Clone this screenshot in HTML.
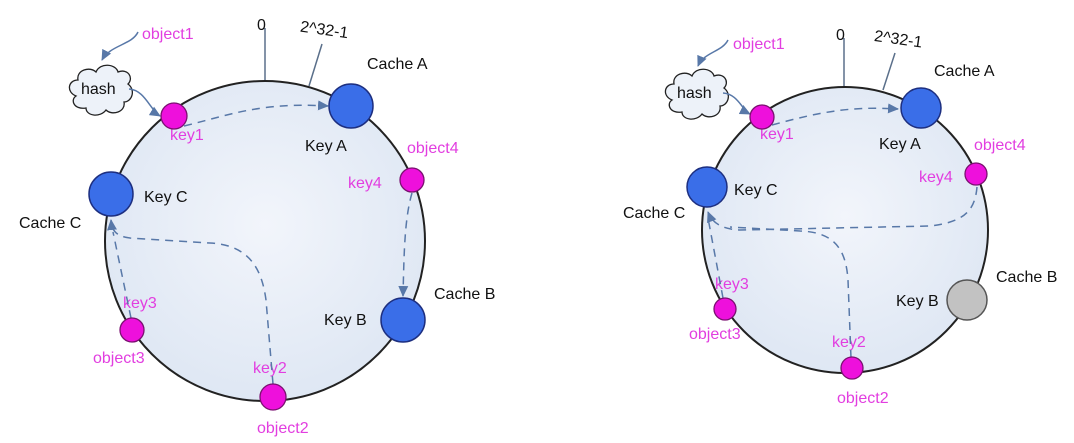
<!DOCTYPE html>
<html><head><meta charset="utf-8"><style>
html,body{margin:0;padding:0;background:#fff;}
svg{display:block}
text{font-family:"Liberation Sans",sans-serif;font-size:16px;}
.m{fill:#e23ee0}
.k{fill:#111}
</style></head><body>
<svg width="1074" height="443" viewBox="0 0 1074 443" xmlns="http://www.w3.org/2000/svg">
<defs>
<radialGradient id="g" cx="50%" cy="45%" r="60%"><stop offset="0" stop-color="#f2f5fb"/><stop offset="1" stop-color="#dde6f3"/></radialGradient>
<marker id="ah" markerWidth="13" markerHeight="12" refX="10" refY="6" orient="auto" markerUnits="userSpaceOnUse"><path d="M0,1 L11,6 L0,11 Z" fill="#5878a8"/></marker>
</defs>
<rect width="1074" height="443" fill="#fff"/>

<!-- LEFT -->
<line x1="265" y1="28" x2="265" y2="81" stroke="#5a6f8a" stroke-width="1.5"/>
<line x1="322" y1="44" x2="309" y2="86" stroke="#5a6f8a" stroke-width="1.5"/>
<circle cx="265" cy="241" r="160" fill="url(#g)" stroke="#222" stroke-width="2"/>
<text x="257" y="30" class="k" font-size="19">0</text>
<text x="300" y="34" class="k" transform="rotate(8 318 30)">2^32-1</text>
<text x="367" y="69" class="k">Cache A</text>
<text x="305" y="151" class="k">Key A</text>
<text x="407" y="153" class="m">object4</text>
<text x="348" y="188" class="m">key4</text>
<text x="144" y="202" class="k">Key C</text>
<text x="19" y="228" class="k">Cache C</text>
<text x="434" y="299" class="k">Cache B</text>
<text x="324" y="325" class="k">Key B</text>
<text x="123" y="308" class="m">key3</text>
<text x="93" y="363" class="m">object3</text>
<text x="253" y="373" class="m">key2</text>
<text x="257" y="433" class="m">object2</text>
<text x="142" y="39" class="m">object1</text>
<text x="170" y="140" class="m">key1</text>
<!-- cloud -->
<path d="M76,96 C66,92 68,80 78,80 C76,70 90,66 96,72 C100,62 116,64 118,72 C128,68 134,78 128,84 C136,90 132,102 124,102 C126,112 112,116 106,110 C100,118 86,116 86,108 C74,110 70,100 76,96 Z" fill="#edf2f9" stroke="#222" stroke-width="1.3"/>
<text x="81" y="94" class="k">hash</text>
<!-- arrows -->
<g fill="none" stroke="#5878a8" stroke-width="1.5">
<path d="M138,32 C132,45 110,45 102,60" marker-end="url(#ah)"/>
<path d="M129,89 C145,90 150,110 160,116" marker-end="url(#ah)"/>
<g stroke-dasharray="8,6">
<path d="M184,126 C230,115 260,102 328,106" marker-end="url(#ah)"/>
<path d="M412,193 C404,220 404,260 403,296" marker-end="url(#ah)"/>
<path d="M273,384 L266,300 C262,270 250,245 210,243 L130,238 C115,236 112,230 111,220" marker-end="url(#ah)"/>
<path d="M131,318 L113,232"/>
</g></g>
<circle cx="174" cy="116" r="13" fill="#ee10dc" stroke="#7a1070" stroke-width="1.3"/>
<circle cx="351" cy="106" r="22" fill="#3a6ee8" stroke="#1d2f80" stroke-width="1.5"/>
<circle cx="412" cy="180" r="12" fill="#ee10dc" stroke="#7a1070" stroke-width="1.3"/>
<circle cx="403" cy="320" r="22" fill="#3a6ee8" stroke="#1d2f80" stroke-width="1.5"/>
<circle cx="273" cy="397" r="13" fill="#ee10dc" stroke="#7a1070" stroke-width="1.3"/>
<circle cx="132" cy="330" r="12" fill="#ee10dc" stroke="#7a1070" stroke-width="1.3"/>
<circle cx="111" cy="194" r="22" fill="#3a6ee8" stroke="#1d2f80" stroke-width="1.5"/>

<!-- RIGHT -->
<line x1="844" y1="38" x2="844" y2="88" stroke="#5a6f8a" stroke-width="1.5"/>
<line x1="895" y1="53" x2="883" y2="90" stroke="#5a6f8a" stroke-width="1.5"/>
<circle cx="845" cy="230" r="143" fill="url(#g)" stroke="#222" stroke-width="2"/>
<text x="836" y="40" class="k" font-size="19">0</text>
<text x="874" y="44" class="k" transform="rotate(8 896 40)">2^32-1</text>
<text x="934" y="76" class="k">Cache A</text>
<text x="879" y="149" class="k">Key A</text>
<text x="974" y="150" class="m">object4</text>
<text x="919" y="182" class="m">key4</text>
<text x="734" y="195" class="k">Key C</text>
<text x="623" y="218" class="k">Cache C</text>
<text x="996" y="282" class="k">Cache B</text>
<text x="896" y="306" class="k">Key B</text>
<text x="715" y="289" class="m">key3</text>
<text x="689" y="339" class="m">object3</text>
<text x="832" y="347" class="m">key2</text>
<text x="837" y="403" class="m">object2</text>
<text x="733" y="49" class="m">object1</text>
<text x="760" y="139" class="m">key1</text>
<path d="M672,100 C662,96 664,84 674,84 C672,74 686,70 692,76 C696,66 712,68 714,76 C724,72 730,82 724,88 C732,94 728,106 720,106 C722,116 708,120 702,114 C696,122 682,120 682,112 C670,114 666,104 672,100 Z" fill="#edf2f9" stroke="#222" stroke-width="1.3"/>
<text x="677" y="98" class="k">hash</text>
<g fill="none" stroke="#5878a8" stroke-width="1.5">
<path d="M728,40 C722,52 704,52 698,66" marker-end="url(#ah)"/>
<path d="M723,93 C738,94 742,110 750,114" marker-end="url(#ah)"/>
<g stroke-dasharray="8,6">
<path d="M772,125 C820,112 850,106 898,109" marker-end="url(#ah)"/>
<path d="M977,187 C975,210 965,222 930,226 L740,230 C720,229 712,222 708,212" marker-end="url(#ah)"/>
<path d="M851,358 L848,280 C846,250 835,232 800,231 L730,227"/>
<path d="M723,298 L708,218"/>
</g></g>
<circle cx="762" cy="117" r="12" fill="#ee10dc" stroke="#7a1070" stroke-width="1.3"/>
<circle cx="921" cy="108" r="20" fill="#3a6ee8" stroke="#1d2f80" stroke-width="1.5"/>
<circle cx="976" cy="174" r="11" fill="#ee10dc" stroke="#7a1070" stroke-width="1.3"/>
<circle cx="967" cy="300" r="20" fill="#c2c2c2" stroke="#555" stroke-width="1.5"/>
<circle cx="852" cy="368" r="11" fill="#ee10dc" stroke="#7a1070" stroke-width="1.3"/>
<circle cx="725" cy="309" r="11" fill="#ee10dc" stroke="#7a1070" stroke-width="1.3"/>
<circle cx="707" cy="187" r="20" fill="#3a6ee8" stroke="#1d2f80" stroke-width="1.5"/>
</svg>
</body></html>
